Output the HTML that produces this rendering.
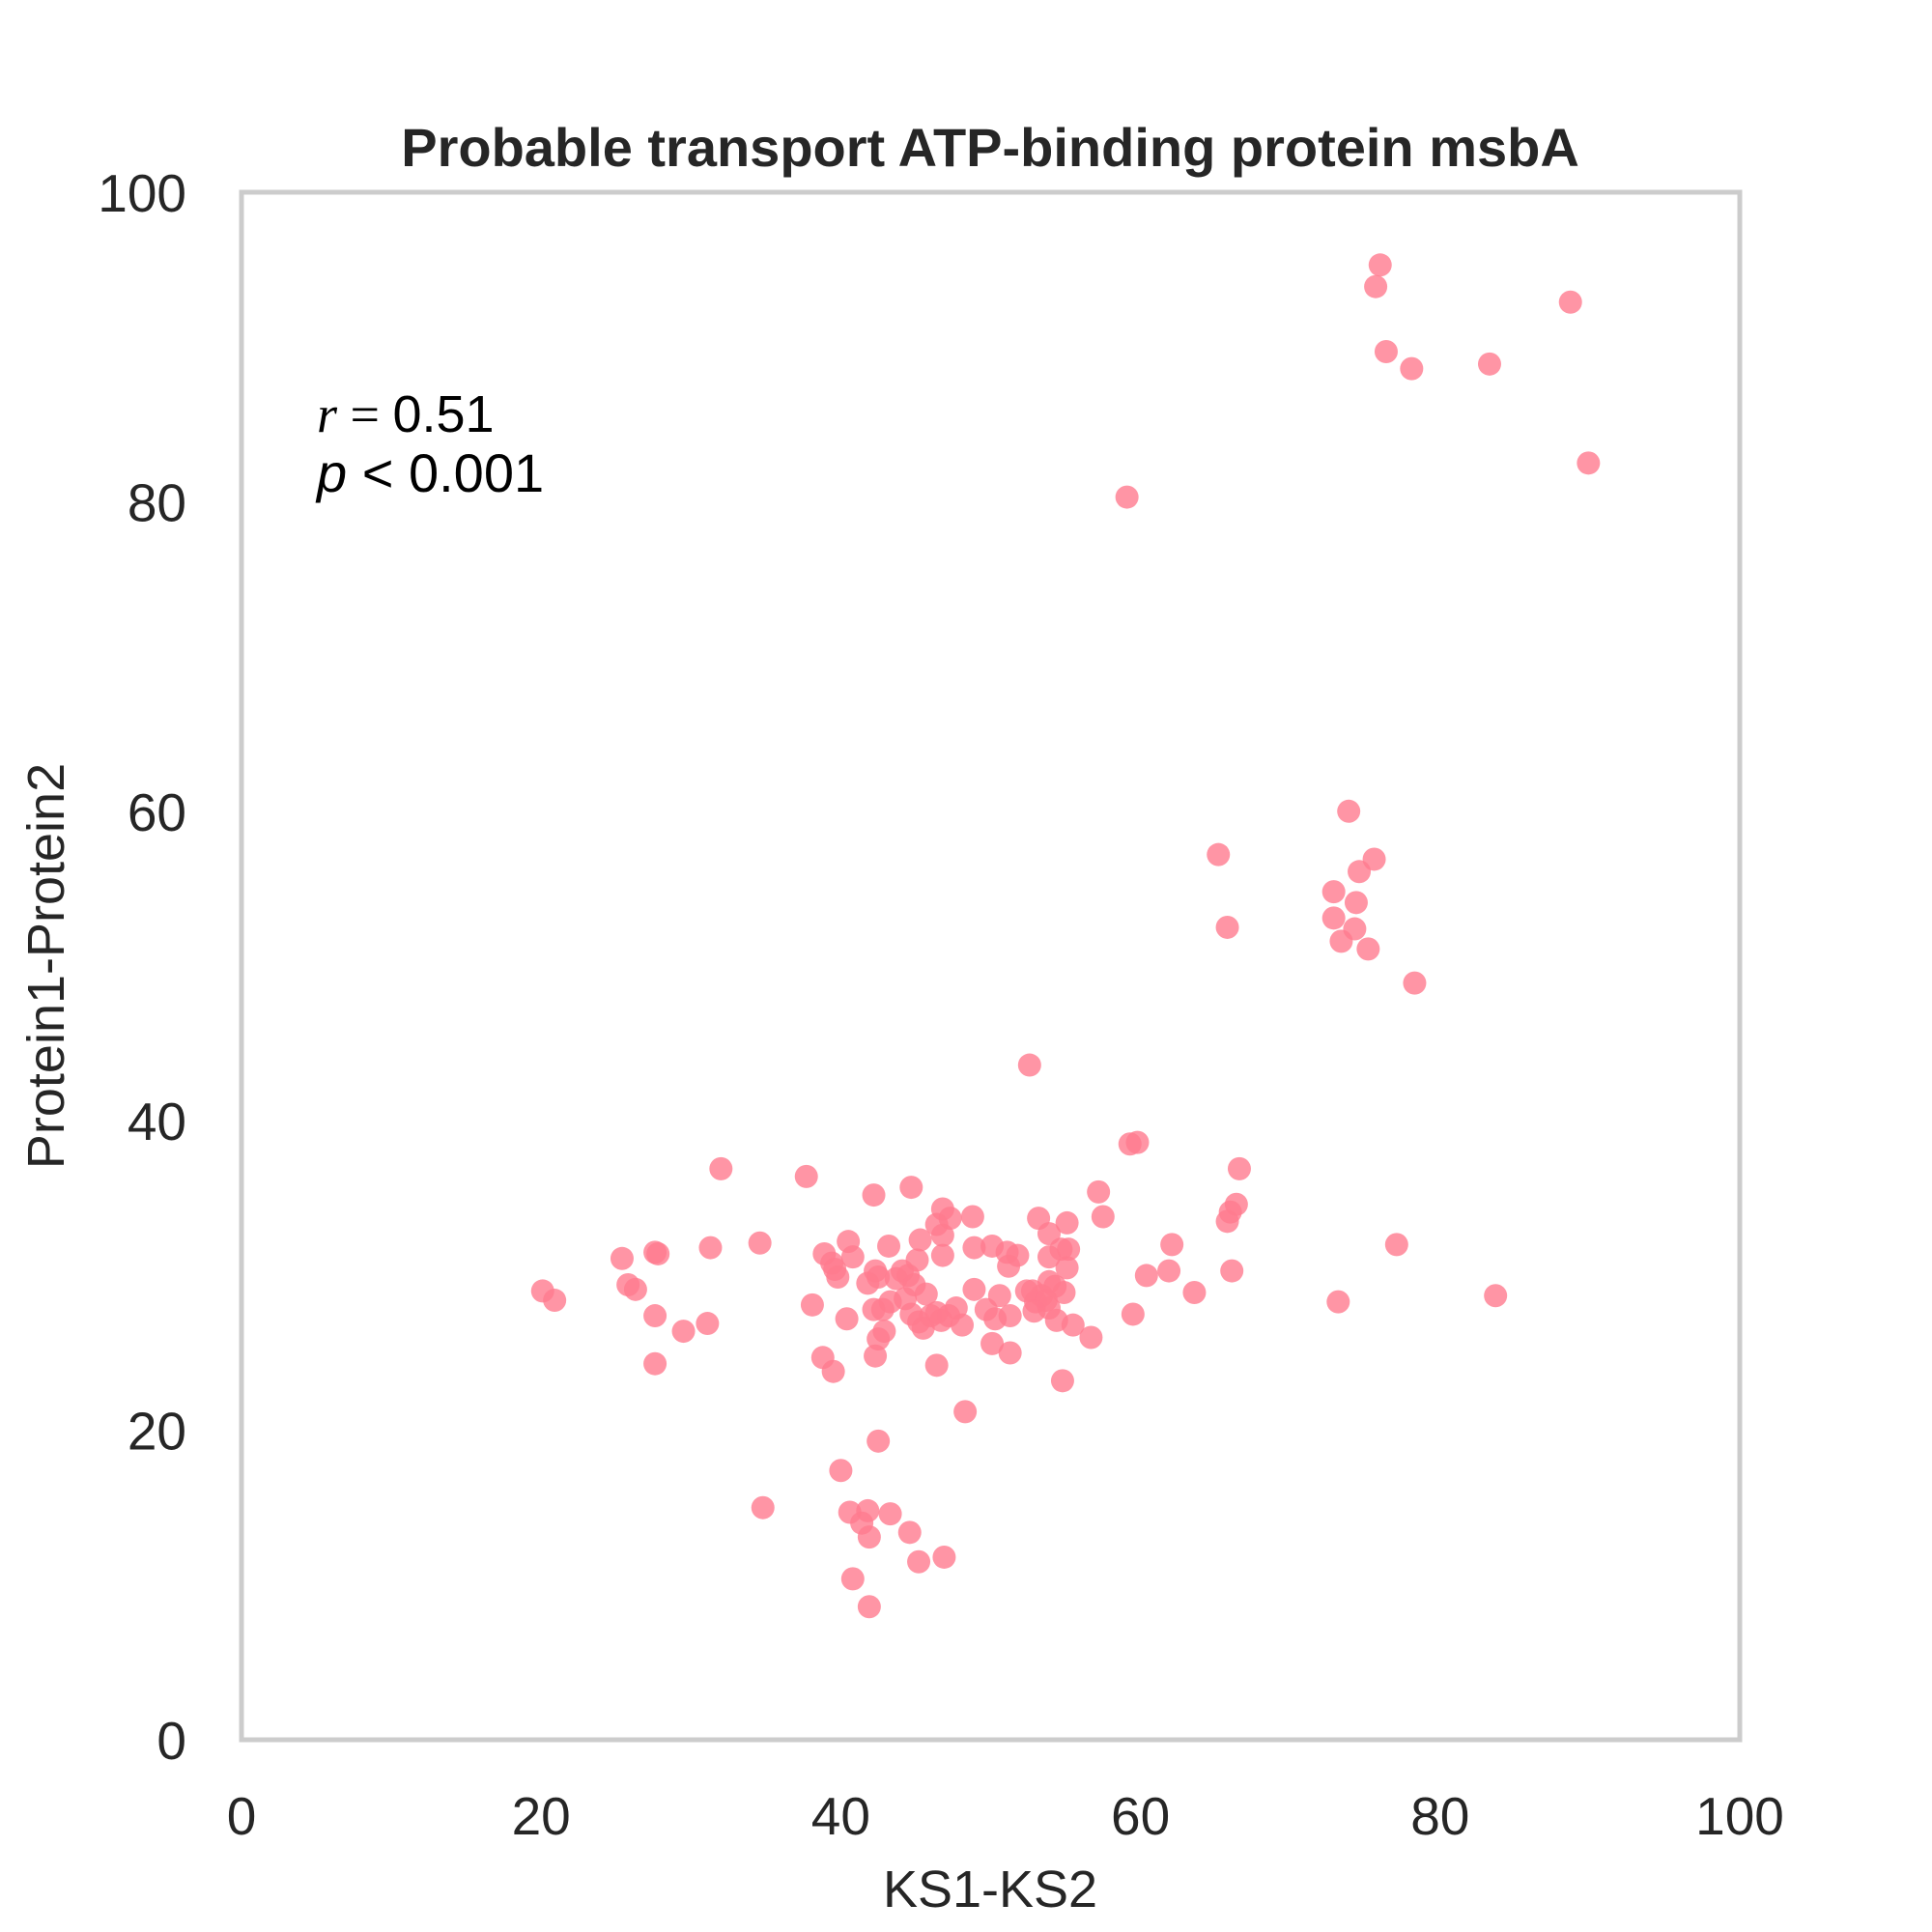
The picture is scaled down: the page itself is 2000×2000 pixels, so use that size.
<!DOCTYPE html>
<html><head><meta charset="utf-8"><style>
html,body{margin:0;padding:0;background:#fff}
svg{display:block}
text{font-family:"Liberation Sans",Arial,sans-serif;fill:#262626}
</style></head><body>
<svg id="chart" width="2000" height="2000" viewBox="0 0 2000 2000" xmlns="http://www.w3.org/2000/svg">
<rect x="0" y="0" width="2000" height="2000" fill="#fff"/>
<text x="1025" y="172" text-anchor="middle" font-size="56" font-weight="bold">Probable transport ATP-binding protein msbA</text>
<g id="ticks"></g>
<g id="points"></g>
<rect x="250" y="199" width="1551" height="1602" fill="none" stroke="#cccccc" stroke-width="5"/>
<text x="1025" y="1974" text-anchor="middle" font-size="54">KS1-KS2</text>
<text x="0" y="0" text-anchor="middle" font-size="54" transform="translate(66,1000) rotate(-90)">Protein1-Protein2</text>
<g>
<text x="328" y="447" font-size="54" style="fill:#000"><tspan font-family="'Liberation Serif',serif" font-style="italic">r</tspan><tspan font-family="'Liberation Serif',serif"> = </tspan>0.51</text>
<text x="328" y="509" font-size="56" font-family="'Liberation Serif',serif" style="fill:#000"><tspan font-style="italic">p</tspan> &lt; 0.001</text>
</g>
</svg>
<script>
const xTicks=[0,20,40,60,80,100];
const yTicks=[0,20,40,60,80,100];
const xVals=[76.0,75.7,88.7,76.4,78.1,83.3,89.9,59.1,73.9,65.2,75.6,74.6,72.9,74.4,72.9,65.8,74.3,73.4,75.2,78.3,52.6,59.3,59.8,66.6,32.0,37.7,44.7,42.2,57.2,66.4,66.0,65.8,46.8,47.3,48.8,57.5,53.2,55.1,46.4,46.8,53.9,45.3,40.5,34.6,31.3,43.2,50.1,62.1,77.1,27.6,27.8,25.4,38.9,40.8,46.8,48.9,51.1,51.8,54.7,55.2,53.9,45.1,39.4,39.6,39.8,51.2,55.1,61.9,66.1,60.4,42.3,42.5,41.8,44.1,43.7,44.5,53.9,54.3,25.8,26.3,20.1,20.9,44.9,45.7,48.9,50.6,52.4,52.8,54.9,63.6,83.7,73.2,53.4,53.7,38.1,43.3,42.2,42.8,44.3,47.7,49.7,53.0,53.9,52.9,59.5,27.6,40.4,44.7,46.0,46.4,45.2,45.5,46.7,47.2,48.1,50.3,51.3,54.4,55.5,31.1,29.5,42.9,42.5,56.7,50.1,38.8,42.3,51.3,27.6,39.5,46.4,54.8,48.3,42.5,40.0,34.8,40.6,41.8,41.4,43.3,41.9,44.6,46.9,45.2,40.8,41.9];
const yVals=[95.3,93.9,92.9,89.7,88.6,88.9,82.5,80.3,60.0,57.2,56.9,56.1,54.8,54.1,53.1,52.5,52.4,51.6,51.1,48.9,43.6,38.5,38.6,36.9,36.9,36.4,35.7,35.2,35.4,34.6,34.1,33.5,34.3,33.7,33.8,33.8,33.7,33.4,33.3,32.6,32.7,32.3,32.2,32.1,31.8,31.9,31.9,32.0,32.0,31.5,31.4,31.1,31.4,31.2,31.3,31.8,31.5,31.3,31.7,31.7,31.2,31.0,30.8,30.4,29.9,30.6,30.5,30.3,30.3,30.0,30.3,29.9,29.5,30.3,29.8,30.0,29.6,29.3,29.4,29.1,29.0,28.4,29.4,28.8,29.1,28.7,29.0,29.0,28.9,28.9,28.7,28.3,28.7,28.4,28.1,28.3,27.8,27.8,28.5,27.9,27.8,28.3,27.9,27.7,27.5,27.4,27.2,27.5,27.4,27.6,27.0,26.6,27.1,27.4,26.8,27.2,27.4,27.1,26.8,26.9,26.4,26.4,25.9,26.0,25.6,24.7,24.8,25.0,24.3,23.8,24.2,23.2,21.2,19.3,17.4,15.0,14.7,14.8,14.0,14.6,13.1,13.4,11.8,11.5,10.4,8.6];
const NS="http://www.w3.org/2000/svg";
const X0=250,X1=1801,Y0=1801,Y1=199;
function sx(v){return X0+(v-0)/(100-0)*(X1-X0);}
function sy(v){return Y0-(v-0)/(100-0)*(Y0-Y1);}
const tg=document.getElementById('ticks');
xTicks.forEach(t=>{
  const el=document.createElementNS(NS,'text');
  el.setAttribute('x',sx(t));el.setAttribute('y',1899);
  el.setAttribute('text-anchor','middle');el.setAttribute('font-size','55');
  el.textContent=t;
  
  
  tg.appendChild(el);
});
yTicks.forEach(t=>{
  const el=document.createElementNS(NS,'text');
  el.setAttribute('x',193);el.setAttribute('y',sy(t)+20);
  el.setAttribute('text-anchor','end');el.setAttribute('font-size','55');
  el.textContent=t;
  
  
  tg.appendChild(el);
});
const pg=document.getElementById('points');
xVals.forEach((xv,i)=>{
  const c=document.createElementNS(NS,'circle');
  c.setAttribute('cx',sx(xv));c.setAttribute('cy',sy(yVals[i]));
  c.setAttribute('r',12);c.setAttribute('fill','#ff7a8e');c.setAttribute('fill-opacity','0.8');
  
  
  pg.appendChild(c);
});
</script>
</body></html>
